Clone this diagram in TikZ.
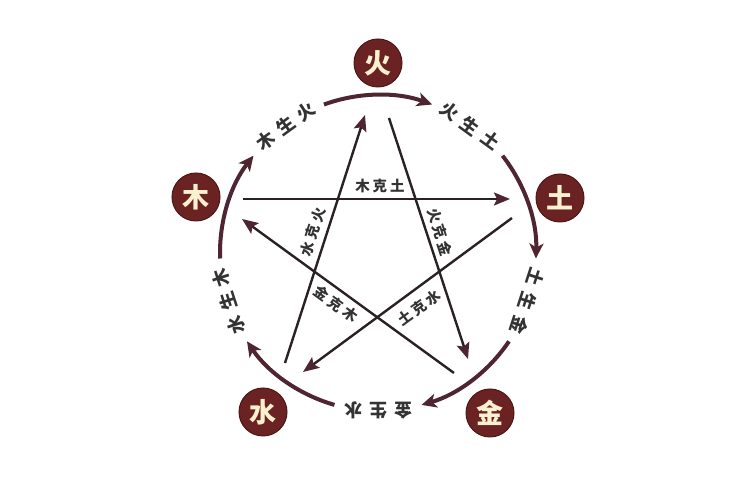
\documentclass[tikz,border=0pt]{standalone}
\usepackage{fontspec}
\newfontfamily\cjk{Noto Sans CJK SC}
\usetikzlibrary{arrows.meta}
\definecolor{maroon}{HTML}{6B2222}
\definecolor{arcc}{HTML}{4E2530}
\definecolor{starc}{HTML}{2A2222}
\definecolor{cream}{HTML}{FBF1D0}
\definecolor{txt}{HTML}{333333}
\newcommand\gapA{\kern7pt}
\newcommand\gapB{\kern3pt}
\begin{document}
\begin{tikzpicture}[x=1pt,y=1pt,
 elem/.style={circle,fill=maroon,draw=maroon!70!black,line width=1pt,minimum size=48pt,inner sep=0pt,text=cream,font=\cjk\bfseries\fontsize{27}{27}\selectfont},
 arcline/.style={draw=arcc,line width=4pt,-{Stealth[length=15pt,width=14pt,inset=4pt]}},
 starline/.style={draw=starc,line width=2.4pt,-{Stealth[length=16pt,width=13pt,inset=3pt,color=arcc]}},
 arclabel/.style={text=txt,font=\cjk\bfseries\fontsize{18}{18}\selectfont,inner sep=0pt},
 starlabel/.style={text=txt,font=\cjk\bfseries\fontsize{14.5}{14.5}\selectfont,inner sep=0pt}]
\fill[white] (0,0) rectangle (750,500);
\useasboundingbox (0,0) rectangle (750,500);
\coordinate (C) at (378,247);
% generating cycle arcs
\draw[arcline] ([shift={(182:158)}]C) arc[start angle=182,end angle=142,radius=158];
\draw[arcline] ([shift={(110:158)}]C) arc[start angle=110,end angle=70,radius=158];
\draw[arcline] ([shift={(38:158)}]C) arc[start angle=38,end angle=-2,radius=158];
\draw[arcline] ([shift={(-34:158)}]C) arc[start angle=-34,end angle=-74,radius=158];
\draw[arcline] ([shift={(254:158)}]C) arc[start angle=254,end angle=214,radius=158];
% arc labels
\node[arclabel,rotate=36] (lmh) at ([shift={(126:157)}]C) {木\gapA 生\gapA 火};
\node[arclabel,rotate=-36] (lht) at ([shift={(54:157)}]C) {火\gapA 生\gapA 土};
\node[arclabel,rotate=-108] (ltj) at ([shift={(-18:157)}]C) {土\gapA 生\gapA 金};
\node[arclabel,rotate=180] (ljs) at ([shift={(-90:157)}]C) {金\gapA 生\gapA 水};
\node[arclabel,rotate=108] (lsm) at ([shift={(198:157)}]C) {水\gapA 生\gapA 木};
% star endpoints
\coordinate (mA) at (243,301); \coordinate (mB) at (510,301);
\coordinate (hA) at (389,382); \coordinate (hB) at (468,141);
\coordinate (sA) at (285,137); \coordinate (sB) at (365,385);
\coordinate (tA) at (512,282); \coordinate (tB) at (303,128);
\coordinate (jA) at (454,127); \coordinate (jB) at (242,281);
\draw[starline] (mA) -- (mB);
\draw[starline] (hA) -- (hB);
\draw[starline] (sA) -- (sB);
\draw[starline] (tA) -- (tB);
\draw[starline] (jA) -- (jB);
% star labels
\node[starlabel] (kmt) at (380,314) {木\gapB 克\gapB 土};
\node[starlabel,rotate=72] (ksh) at (313,268) {水\gapB 克\gapB 火};
\node[starlabel,rotate=-72] (khj) at (440,268) {火\gapB 克\gapB 金};
\node[starlabel,rotate=-36] (kjm) at (336,196) {金\gapB 克\gapB 木};
\node[starlabel,rotate=36] (kts) at (419,192) {土\gapB 克\gapB 水};
% elements
\node[elem] (huo) at (378,437) {火};
\node[elem] (tu) at (560,302) {土};
\node[elem] (mu) at (196,303) {木};
\node[elem] (shui) at (263,88) {水};
\node[elem] (jin) at (490,87) {金};
\end{tikzpicture}
\end{document}
